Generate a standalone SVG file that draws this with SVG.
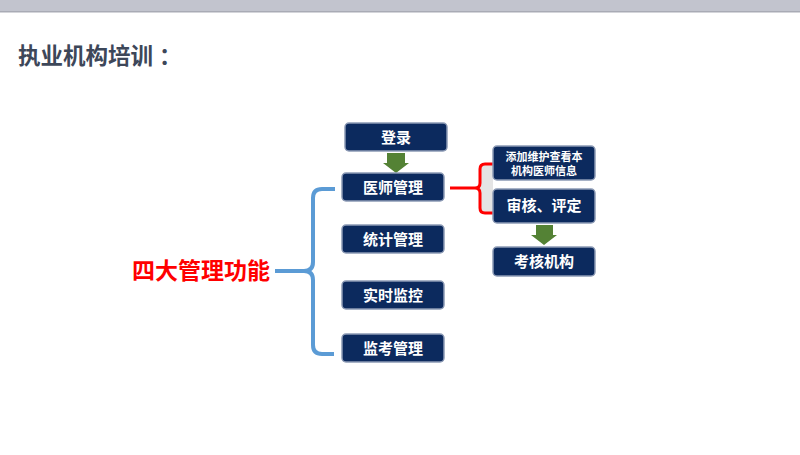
<svg xmlns="http://www.w3.org/2000/svg" width="800" height="455" viewBox="0 0 800 455">
<defs>
<style>
.box{fill:#0c2a5e;stroke:#8c9ab5;stroke-width:1.5}
.bt{fill:#ffffff;font-family:"Noto Sans CJK SC","Noto Sans",sans-serif;font-weight:bold;font-size:15px;text-anchor:middle}
.bts{fill:#ffffff;font-family:"Noto Sans CJK SC","Noto Sans",sans-serif;font-weight:bold;font-size:11px;text-anchor:middle}
.arrow{fill:#548235}
</style>
</defs>
<rect x="0" y="0" width="800" height="455" fill="#ffffff"/>
<rect x="0" y="0" width="800" height="11" fill="#c2c4ce"/>
<rect x="0" y="11" width="800" height="1.5" fill="#a9abb5"/>
<text id="title" x="18" y="64" font-family="Noto Sans CJK SC,sans-serif" font-weight="bold" font-size="22.5" fill="#3d4759">执业机构培训<tspan dx="6">：</tspan></text>
<g id="connectors">
<path d="M335,189 H322 Q313,189 313,198 V262 Q313,271 304,271 H275 M304,271 Q313,271 313,280 V345 Q313,354 322,354 H334" fill="none" stroke="#5b9bd5" stroke-width="4"/>
<rect x="480" y="164" width="13" height="49" fill="#e4e4e4"/>
<path d="M493,164 H485 Q480,164 480,169 V183 Q480,188 475,188 H450 M475,188 Q480,188 480,193 V208 Q480,213 485,213 H493" fill="none" stroke="#ff0000" stroke-width="3"/>
<polygon class="arrow" points="387,153 405,153 405,163 409,163 396,173 383,163 387,163"/>
<polygon class="arrow" points="536,225 553,225 553,235 557,235 544,245 531,235 536,235"/>
</g>
<g id="main">
<text x="201" y="279" font-family="Noto Sans CJK SC,sans-serif" font-weight="bold" font-size="23" fill="#ff0000" text-anchor="middle">四大管理功能</text>
</g>
<g id="login"><rect class="box" x="345" y="123" width="102" height="28" rx="4"/><text class="bt" x="396" y="142.5">登录</text></g>
<g id="doctor"><rect class="box" x="342" y="173" width="102" height="28" rx="4"/><text class="bt" x="393" y="192.5">医师管理</text></g>
<g id="stats"><rect class="box" x="342" y="225" width="102" height="28" rx="4"/><text class="bt" x="393" y="244.5">统计管理</text></g>
<g id="monitor"><rect class="box" x="342" y="281" width="102" height="28" rx="4"/><text class="bt" x="393" y="300.5">实时监控</text></g>
<g id="exam"><rect class="box" x="342" y="334" width="102" height="28" rx="4"/><text class="bt" x="393" y="353.5">监考管理</text></g>
<g id="maintain"><rect class="box" x="493" y="146" width="102" height="34" rx="4"/><text class="bts" x="544" y="160.5">添加维护查看本</text><text class="bts" x="544" y="175">机构医师信息</text></g>
<g id="review"><rect class="box" x="493" y="189" width="102" height="34" rx="4"/><text class="bt" x="544" y="211">审核、评定</text></g>
<g id="assess"><rect class="box" x="493" y="247" width="102" height="29" rx="4"/><text class="bt" x="544" y="267">考核机构</text></g>
</svg>
